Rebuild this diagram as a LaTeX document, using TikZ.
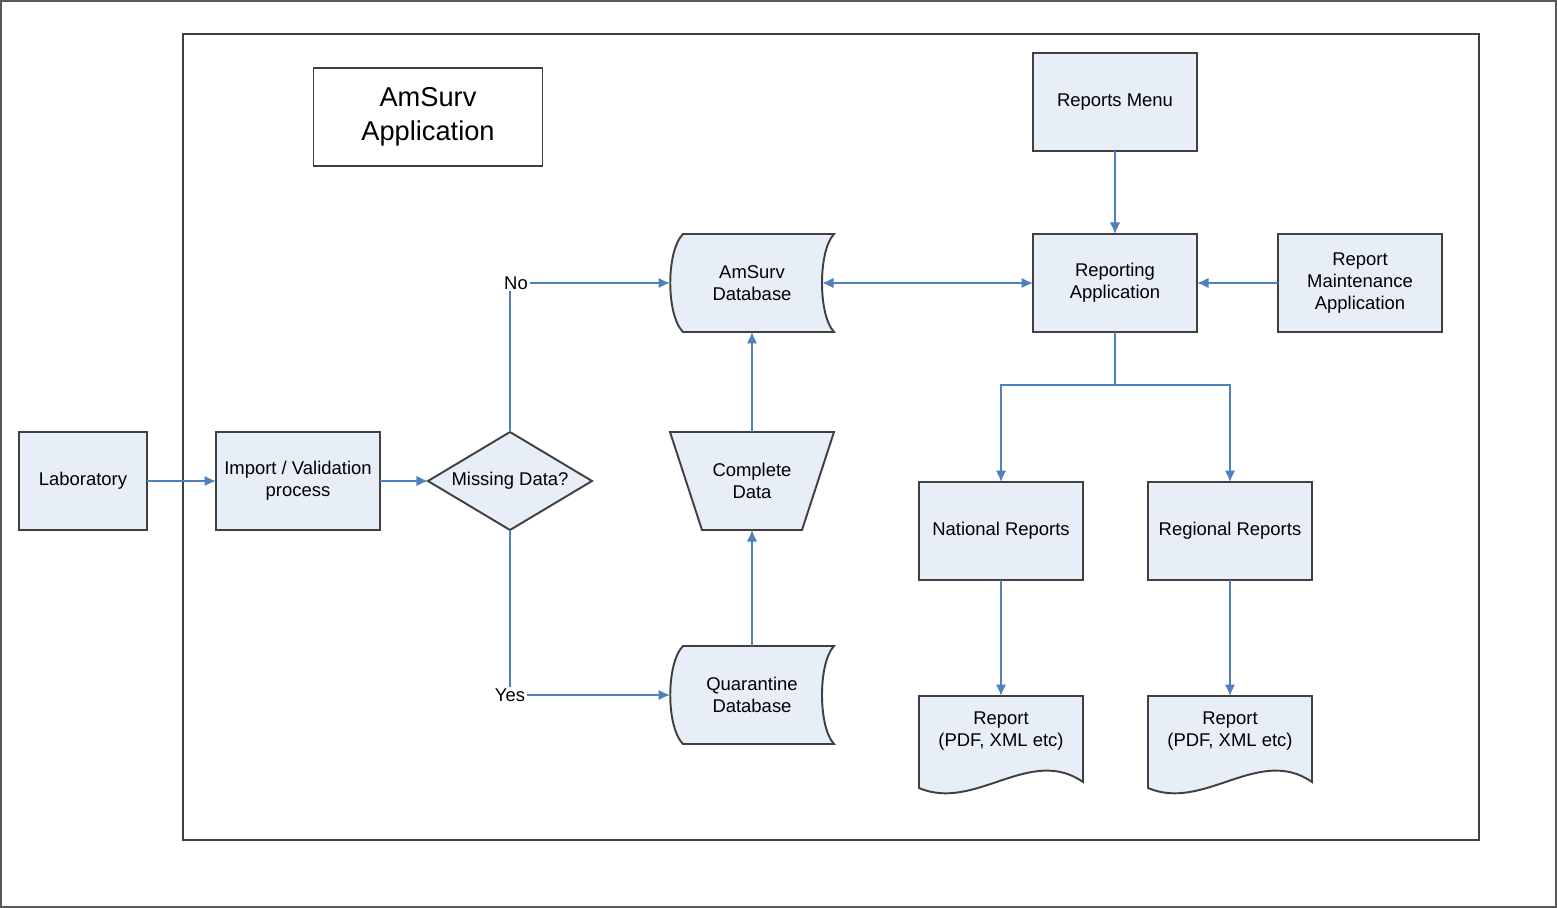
\documentclass[tikz,border=0pt]{standalone}
\usepackage{fontspec}
\setmainfont{Liberation Sans}
\usetikzlibrary{arrows.meta,positioning,shapes.geometric}
\pgfdeclarelayer{background}
\pgfsetlayers{background,main}
\definecolor{boxfill}{RGB}{232,238,247}
\definecolor{boxline}{RGB}{64,64,64}
\definecolor{linkblue}{RGB}{79,129,189}

\begin{document}
\begin{tikzpicture}[
  block/.style={rectangle, draw=boxline, fill=boxfill, line width=1.1pt, outer sep=0pt,
    minimum width=3.28cm, minimum height=1.96cm, align=center,
    font=\fontsize{10.5}{12.5}\selectfont},
  holder/.style={rectangle, outer sep=0pt, minimum width=3.28cm, minimum height=1.96cm,
    align=center, font=\fontsize{10.5}{12.5}\selectfont},
  decision/.style={diamond, draw=boxline, fill=boxfill, line width=1.1pt, outer sep=0pt,
    aspect=1.67, inner sep=0pt, minimum width=3.28cm, minimum height=1.96cm,
    font=\fontsize{10.5}{12.5}\selectfont},
  titlebox/.style={rectangle, draw=boxline, fill=white, line width=1.1pt,
    minimum width=4.58cm, minimum height=1.96cm, align=center,
    font=\fontsize{15.5}{19}\selectfont},
  outline/.style={draw=boxline, fill=boxfill, line width=1.1pt},
  lbl/.style={fill=white, inner sep=1pt, font=\fontsize{10.5}{12.5}\selectfont},
  arr/.style={draw=linkblue, line width=1pt, -{Latex[length=2.3mm,width=2.1mm]}}
]
\useasboundingbox (0,0) rectangle (31.14,-18.16);
\draw[draw=black!65, line width=1.2pt] (0.02,-0.02) rectangle (31.12,-18.14);
\draw[draw=boxline, line width=1.1pt] (3.66,-0.68) rectangle (29.58,-16.8);

\node[titlebox] (title) at (8.56,-2.34) {AmSurv\\Application};

% Input chain
\node[block, minimum width=2.56cm] (lab) at (1.66,-9.62) {Laboratory};
\node[block, right=1.38cm of lab] (import) {Import / Validation\\process};
\node[decision, right=0.96cm of import] (missing) {Missing Data?};

% Data stores
\node[holder, right=1.56cm of missing] (complete) {Complete\\Data};
\node[holder, above=2cm of complete] (amdb) {AmSurv\\Database};
\node[holder, below=2.32cm of complete] (quardb) {Quarantine\\Database};

% Reporting
\node[block, right=3.98cm of amdb] (reporting) {Reporting\\Application};
\node[block, above=1.66cm of reporting] (menu) {Reports Menu};
\node[block, right=1.62cm of reporting] (maint) {Report\\Maintenance\\Application};
\node[block, below left=3cm and -1cm of reporting] (national) {National Reports};
\node[block, right=1.3cm of national] (regional) {Regional Reports};
\node[holder, minimum height=1.4cm, below=2.32cm of national] (natdoc) {Report\\(PDF, XML etc)};
\node[holder, minimum height=1.4cm, below=2.32cm of regional] (regdoc) {Report\\(PDF, XML etc)};
\coordinate[below=1.06cm of reporting] (split);

% Shapes behind the texts
\begin{pgfonlayer}{background}
\draw[outline] ([xshift=0.26cm]amdb.north west) -- (amdb.north east)
  .. controls ([xshift=-0.32cm,yshift=-0.34cm]amdb.north east) and ([xshift=-0.32cm,yshift=0.34cm]amdb.south east) .. (amdb.south east)
  -- ([xshift=0.26cm]amdb.south west)
  .. controls ([xshift=-0.08cm,yshift=0.34cm]amdb.south west) and ([xshift=-0.08cm,yshift=-0.34cm]amdb.north west) .. cycle;
\draw[outline] ([xshift=0.26cm]quardb.north west) -- (quardb.north east)
  .. controls ([xshift=-0.32cm,yshift=-0.34cm]quardb.north east) and ([xshift=-0.32cm,yshift=0.34cm]quardb.south east) .. (quardb.south east)
  -- ([xshift=0.26cm]quardb.south west)
  .. controls ([xshift=-0.08cm,yshift=0.34cm]quardb.south west) and ([xshift=-0.08cm,yshift=-0.34cm]quardb.north west) .. cycle;
\draw[outline] (complete.north west) -- (complete.north east)
  -- ([xshift=-0.64cm]complete.south east) -- ([xshift=0.64cm]complete.south west) -- cycle;
\draw[outline] (natdoc.north west) -- (natdoc.north east) -- ([yshift=-0.32cm]natdoc.south east)
  .. controls ([xshift=-1.06cm,yshift=0.42cm]natdoc.south east) and ([xshift=1.12cm,yshift=-0.92cm]natdoc.south west) .. ([yshift=-0.44cm]natdoc.south west) -- cycle;
\draw[outline] (regdoc.north west) -- (regdoc.north east) -- ([yshift=-0.32cm]regdoc.south east)
  .. controls ([xshift=-1.06cm,yshift=0.42cm]regdoc.south east) and ([xshift=1.12cm,yshift=-0.92cm]regdoc.south west) .. ([yshift=-0.44cm]regdoc.south west) -- cycle;
\end{pgfonlayer}

% Connectors
\draw[arr] (lab) -- (import);
\draw[arr] (import) -- (missing);
\draw[arr] (missing.north) |- (amdb.west);
\draw[arr] (missing.south) |- (quardb.west);
\node[lbl, xshift=0.12cm] (no) at (missing.north |- amdb.west) {No};
\node[lbl] (yes) at (missing.south |- quardb.west) {Yes};
\draw[arr] (quardb) -- (complete);
\draw[arr] (complete) -- (amdb);
\draw[arr, {Latex[length=2.3mm,width=2.1mm]}-{Latex[length=2.3mm,width=2.1mm]}] ([xshift=-0.24cm]amdb.east) -- (reporting.west);
\draw[arr] (menu) -- (reporting);
\draw[arr] (maint) -- (reporting);
\draw[arr] (reporting.south) -- (split) -| (national.north);
\draw[arr] (split) -| (regional.north);
\draw[arr] (national) -- (natdoc);
\draw[arr] (regional) -- (regdoc);

\end{tikzpicture}
\end{document}
